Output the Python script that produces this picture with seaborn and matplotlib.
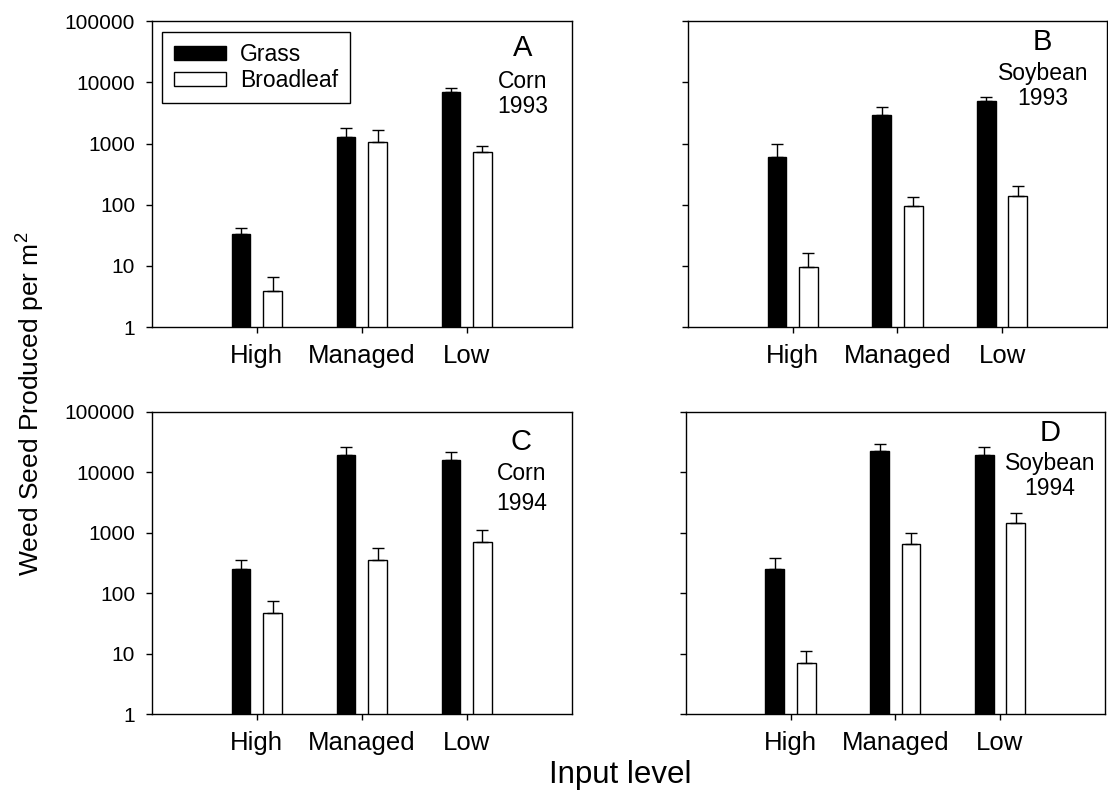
import numpy as np
import pandas as pd
import seaborn as sns
import matplotlib
matplotlib.use('Agg')
import matplotlib.pyplot as plt
from matplotlib.patches import Patch
from matplotlib.ticker import NullLocator

levels = ['High', 'Managed', 'Low']
weeds = ['Grass', 'Broadleaf']
panel_letters = ['A', 'B', 'C', 'D']
crops = ['Corn', 'Soybean', 'Corn', 'Soybean']
years = ['1993', '1993', '1994', '1994']

# mean seed production per m2 (High, Managed, Low), one list per panel
grass_mean = [[33, 1260, 7000], [610, 2900, 4900], [250, 19400, 15600], [250, 22500, 18900]]
grass_se = [[8, 570, 1130], [360, 1000, 800], [100, 6200, 5500], [124, 6500, 7300]]
broad_mean = [[3.9, 1070, 720], [9.7, 94, 137], [47, 356, 690], [7.0, 660, 1420]]
broad_se = [[2.6, 580, 210], [6.7, 39, 62], [28, 198, 400], [4.1, 310, 710]]

yticks = [1, 10, 100, 1000, 10000, 100000]
ytick_labels = ['1', '10', '100', '1000', '10000', '100000']

sns.set_style('ticks')
plt.rcParams['font.family'] = ['Liberation Sans', 'DejaVu Sans']
plt.rcParams['mathtext.fontset'] = 'custom'
plt.rcParams['mathtext.rm'] = 'Liberation Sans'
plt.rcParams['mathtext.default'] = 'regular'
for key in ['text.color', 'axes.labelcolor', 'xtick.color', 'ytick.color', 'axes.edgecolor']:
    plt.rcParams[key] = 'black'

fig = plt.figure(figsize=(11.08, 7.90), dpi=100)
axes_pos = [[0.137, 0.586, 0.379, 0.387],
            [0.621, 0.586, 0.378, 0.387],
            [0.137, 0.096, 0.379, 0.383],
            [0.619, 0.096, 0.378, 0.383]]
# panel text anchors in axes fraction
text_x = [0.883, 0.847, 0.880, 0.869]
letter_y = [0.912, 0.931, 0.900, 0.929]
crop_y = [0.804, 0.830, 0.796, 0.828]
year_y = [0.720, 0.748, 0.697, 0.745]

for i in range(4):
    ax = fig.add_axes(axes_pos[i])
    ax.set_yscale('log')
    df = pd.DataFrame({
        'level': levels * 2,
        'weed': ['Grass'] * 3 + ['Broadleaf'] * 3,
        'seeds': grass_mean[i] + broad_mean[i],
    })
    se_lookup = dict(zip(zip(df['level'], df['weed']), grass_se[i] + broad_se[i]))
    sns.barplot(data=df, x='level', y='seeds', hue='weed', order=levels,
                hue_order=weeds, palette=['black', 'white'], edgecolor='black',
                linewidth=1, width=0.6, gap=0.4, errorbar=None, legend=False, ax=ax)

    # one-sided standard error bars on top of each bar
    bars = sorted(ax.patches, key=lambda p: p.get_x())
    keys = [(lv, w) for lv in levels for w in weeds]
    for p, k in zip(bars, keys):
        xc = p.get_x() + p.get_width() / 2
        top = p.get_y() + p.get_height()
        ax.errorbar(xc, top, yerr=[[0], [se_lookup[k]]], fmt='none',
                    ecolor='black', elinewidth=1, capsize=4, capthick=1)

    ax.set_xlim(-1, 3)
    ax.set_ylim(1, 100000)
    ax.set_yticks(yticks)
    ax.yaxis.set_minor_locator(NullLocator())
    if i % 2 == 0:
        ax.set_yticklabels(ytick_labels, fontsize=15)
    else:
        ax.set_yticklabels([])
    ax.tick_params(axis='x', labelsize=18.5, length=4, width=1, pad=8)
    ax.tick_params(axis='y', length=4, width=1, pad=8)
    ax.set_xlabel('')
    ax.set_ylabel('')
    for s in ax.spines.values():
        s.set_linewidth(1)

    ax.text(text_x[i], letter_y[i], panel_letters[i], transform=ax.transAxes,
            ha='center', va='center', fontsize=21)
    ax.text(text_x[i], crop_y[i], crops[i], transform=ax.transAxes,
            ha='center', va='center', fontsize=16.5)
    ax.text(text_x[i], year_y[i], years[i], transform=ax.transAxes,
            ha='center', va='center', fontsize=16.5)

    if i == 0:
        handles = [Patch(facecolor='black', edgecolor='black', label='Grass'),
                   Patch(facecolor='white', edgecolor='black', label='Broadleaf')]
        leg = ax.legend(handles=handles, loc='upper left', fontsize=16.5,
                        frameon=True, fancybox=False, edgecolor='black',
                        framealpha=1, handlelength=2.3, handleheight=0.55,
                        handletextpad=0.6, borderaxespad=0.45, labelspacing=0.12,
                        borderpad=0.5)
        leg.get_frame().set_linewidth(1)

fig.text(0.028, 0.489, 'Weed Seed Produced per m$^2$', rotation=90,
         ha='center', va='center', fontsize=19)
fig.text(0.5596, 0.019, 'Input level', ha='center', va='center', fontsize=22.5)

fig.savefig('out.png', dpi=100)
